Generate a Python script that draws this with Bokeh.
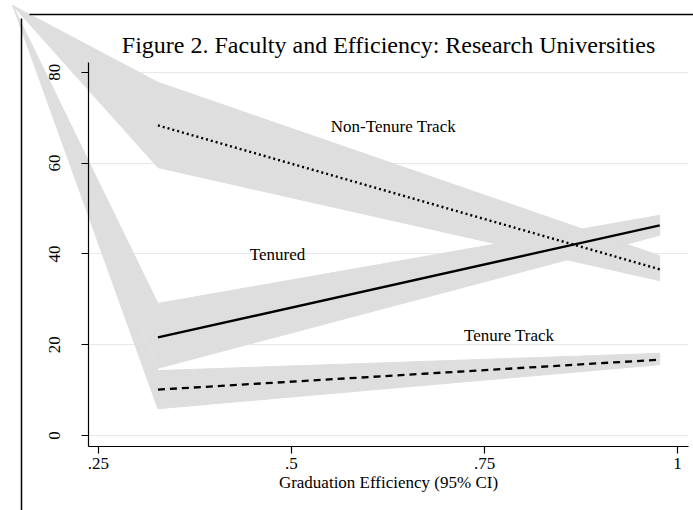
from bokeh.plotting import figure
from bokeh.models import Range1d, Arrow, FixedTicker, CustomJSTickFormatter, Label
from bokeh.core.properties import value
from bokeh.embed import file_html
from bokeh.resources import INLINE

# ---- data ----
efficiency = [0.327, 0.977]

nontenure_fit = [68.3, 36.6]
nontenure_lo = [59.0, 34.1]
nontenure_hi = [77.8, 39.6]

tenured_fit = [21.6, 46.3]
tenured_lo = [14.8, 44.1]
tenured_hi = [29.1, 48.5]

track_fit = [10.1, 16.7]
track_lo = [5.9, 15.6]
track_hi = [14.3, 18.1]

# every CI area in the source starts from this stray off-plot point
ci_stray_x = 0.139
ci_stray_y = 94.7

series_labels = ["Non-Tenure Track", "Tenured", "Tenure Track"]
label_x = [0.632, 0.482, 0.782]
label_y = [68.1, 39.9, 22.0]

x_ticks = [0.25, 0.5, 0.75, 1.0]
y_ticks = [0, 20, 40, 60, 80]

title_text = "Figure 2. Faculty and Efficiency: Research Universities"
x_title = "Graduation Efficiency (95% CI)"

# ---- layout / style ----
FONT = "Liberation Serif"
BAND = "#dedede"
X_AXIS_BOUNDS = (0.237, 1.014)
Y_AXIS_BOUNDS = (-2.42, 82.16)

# frame spans the whole canvas so that the stray CI areas are not clipped;
# the axes are placed with fixed_location at the plot-region edges
p = figure(width=693, height=510, output_backend="svg", toolbar_location=None,
           x_range=Range1d(0.1231, 1.0207), y_range=Range1d(-16.52, 95.81),
           min_border=0, min_border_left=0, min_border_right=0,
           min_border_top=0, min_border_bottom=0)

p.background_fill_color = "white"
p.border_fill_color = "white"
p.outline_line_color = None

xa = p.xaxis[0]
ya = p.yaxis[0]
xa.fixed_location = Y_AXIS_BOUNDS[0]
ya.fixed_location = X_AXIS_BOUNDS[0]
xa.bounds = X_AXIS_BOUNDS
ya.bounds = Y_AXIS_BOUNDS

xa.ticker = FixedTicker(ticks=x_ticks)
xa.formatter = CustomJSTickFormatter(code="""
    if (tick == 1) return "1";
    return String(tick).replace(/^0\\./, ".");
""")
xa.axis_label = x_title
ya.ticker = FixedTicker(ticks=y_ticks)
ya.major_label_orientation = "vertical"

for ax in (xa, ya):
    ax.axis_line_color = "black"
    ax.axis_line_width = 1.2
    ax.major_tick_line_color = "black"
    ax.major_tick_line_width = 1.2
    ax.major_tick_out = 7
    ax.major_tick_in = 0
    ax.minor_tick_line_color = None
    ax.major_label_text_font = FONT
    ax.major_label_text_font_size = "17px"
    ax.major_label_text_color = "black"
    ax.axis_label_text_font = FONT
    ax.axis_label_text_font_size = "17px"
    ax.axis_label_text_font_style = "normal"
    ax.axis_label_text_color = "black"

xa.major_label_standoff = 5
xa.axis_label_standoff = 0
ya.major_label_standoff = 21

p.xgrid.visible = False
yg = p.ygrid[0]
yg.ticker = FixedTicker(ticks=y_ticks)
yg.grid_line_color = "#e8e8e8"
yg.grid_line_width = 1.2
if "cross_bounds" in type(yg).properties():
    yg.cross_bounds = X_AXIS_BOUNDS
else:
    yg.visible = False
    p.segment(x0=[X_AXIS_BOUNDS[0]] * len(y_ticks), x1=[X_AXIS_BOUNDS[1]] * len(y_ticks),
              y0=y_ticks, y1=y_ticks, line_color="#e8e8e8", line_width=1.2)

# CI areas
band_xs, band_ys = [], []
for lo, hi in ((nontenure_lo, nontenure_hi), (tenured_lo, tenured_hi), (track_lo, track_hi)):
    band_xs.append([ci_stray_x, efficiency[0], efficiency[1], efficiency[1], efficiency[0]])
    band_ys.append([ci_stray_y, hi[0], hi[1], lo[1], lo[0]])
p.patches(band_xs, band_ys, fill_color=BAND, fill_alpha=1.0,
          line_color=BAND, line_width=1)

# fitted lines
p.line(efficiency, nontenure_fit, line_color="black", line_width=2.4, line_dash="2 3")
p.line(efficiency, tenured_fit, line_color="black", line_width=2.3)
p.line(efficiency, track_fit, line_color="black", line_width=2.3, line_dash="7 5")

# series labels
p.text(x=label_x, y=label_y, text=series_labels, text_font=value(FONT),
       text_font_size="17px", text_align="center", text_baseline="middle",
       text_color="black")

# title
p.add_layout(Label(x=0.6257, y=85.9, text=title_text, text_font=FONT,
                   text_font_size="24px", text_align="center", text_baseline="middle",
                   text_color="black"))

# stray frame lines from the source page
p.add_layout(Arrow(end=None, x_start=21, y_start=18, x_end=21, y_end=510,
                   start_units="canvas", end_units="canvas",
                   line_color="black", line_width=1.5))
p.add_layout(Arrow(end=None, x_start=29, y_start=14, x_end=693, y_end=14,
                   start_units="canvas", end_units="canvas",
                   line_color="black", line_width=1.5))

open("out.html", "w").write(file_html(p, INLINE))
